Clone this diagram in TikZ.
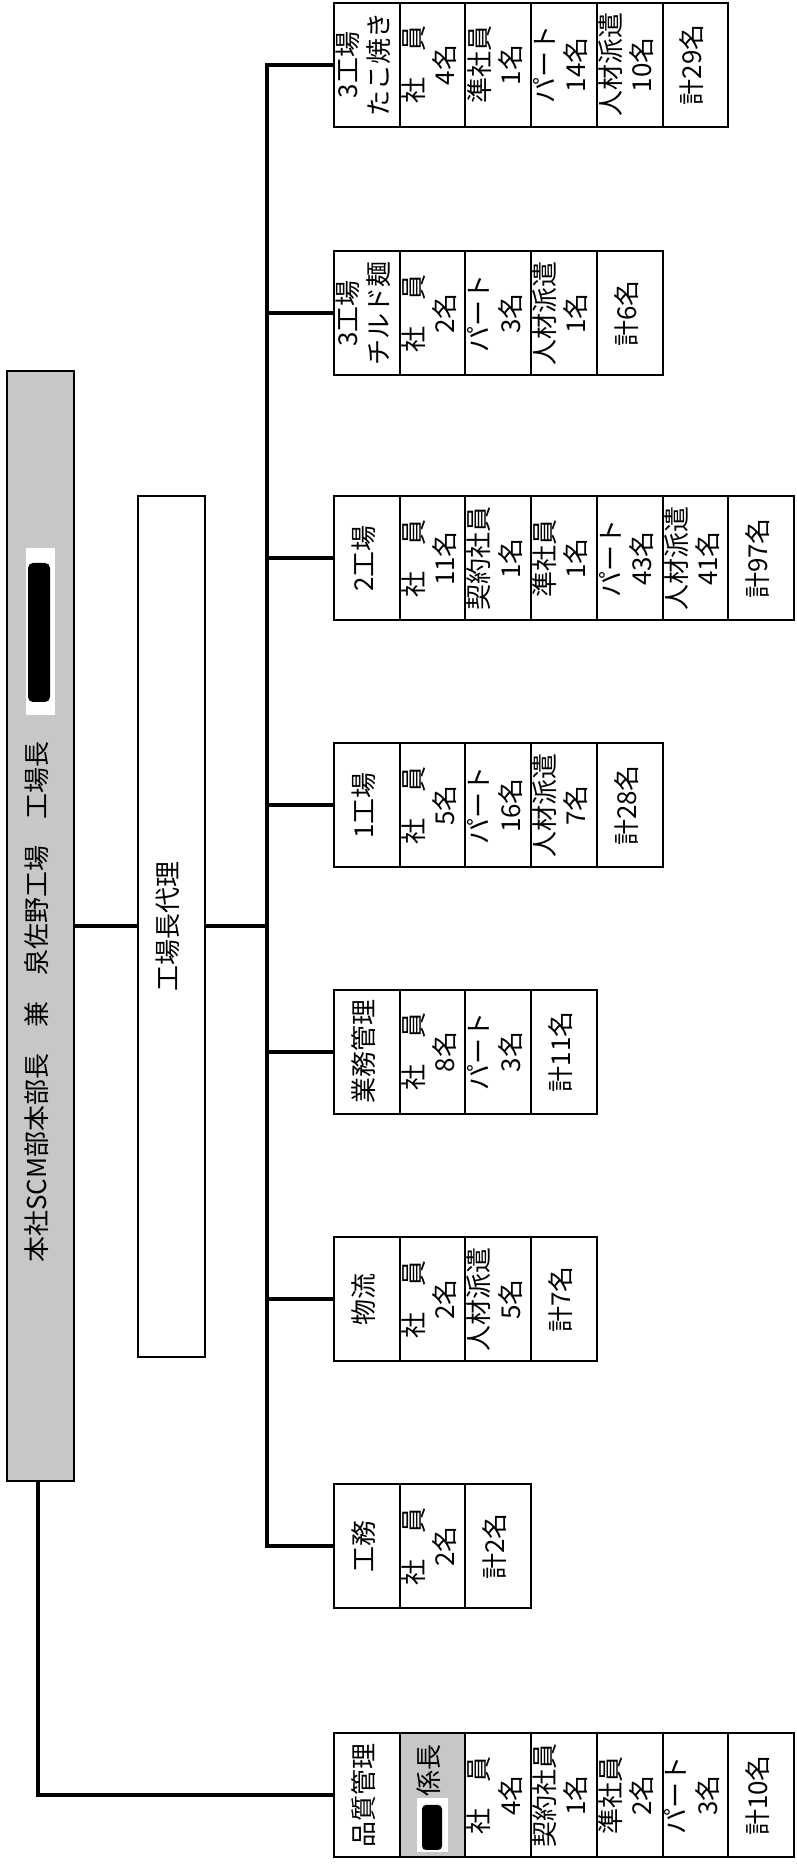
\documentclass[tikz,border=0pt]{standalone}
\usepackage{fontspec}
\usepackage{graphicx}
\newfontfamily\jpfont{Noto Sans CJK JP}
\usetikzlibrary{positioning}
\newcommand{\vtext}[1]{\rotatebox{90}{\begin{tabular}{@{}c@{}}#1\end{tabular}}}

\begin{document}
\begin{tikzpicture}[
    x=1pt, y=1pt,
    font=\jpfont\fontsize{26}{31}\selectfont,
    cell/.style={
		rectangle,
		draw=black,
		line width=2pt,
		minimum width=65.7pt,
		minimum height=124pt,
		inner sep=0pt,
		outer sep=0pt,
		fill=white
	},
	shaded/.style={
		cell,
		fill=black!22
	},
	link/.style={
		line width=4pt
	}
  ]
  \useasboundingbox (0,0) rectangle (796,1866);

    % We start by placing the two long boxes
  \node [shaded, minimum width=67pt, minimum height=1110pt] (head) at (40.5,939.5) {};
  \node (headlbl) at (40,864) {\vtext{本社SCM部本部長　兼　泉佐野工場　工場長}};
  \fill [white] (26,1151) rectangle (55,1318);
  \fill [black, rounded corners=5pt] (28,1164) rectangle (50,1303);

  \node [cell, minimum width=67pt, minimum height=861pt] (deputy) at (171.5,939.5) {\vtext{工場長代理}};

  \coordinate (spine) at (267,0);

    % 3工場 たこ焼き
  \node [cell] (tako1) at (366.9,1801) {\vtext{3工場\\たこ焼き}};
  \node [cell, right=0pt of tako1] (tako2) {\vtext{社　員\\4名}};
  \node [cell, right=0pt of tako2] (tako3) {\vtext{準社員\\1名}};
  \node [cell, right=0pt of tako3] (tako4) {\vtext{パート\\14名}};
  \node [cell, right=0pt of tako4] (tako5) {\vtext{人材派遣\\10名}};
  \node [cell, right=0pt of tako5] (tako6) {\vtext{計29名}};

    % 3工場 チルド麺
  \node [cell] (chil1) at (366.9,1552.5) {\vtext{3工場\\チルド麺}};
  \node [cell, right=0pt of chil1] (chil2) {\vtext{社　員\\2名}};
  \node [cell, right=0pt of chil2] (chil3) {\vtext{パート\\3名}};
  \node [cell, right=0pt of chil3] (chil4) {\vtext{人材派遣\\1名}};
  \node [cell, right=0pt of chil4] (chil5) {\vtext{計6名}};

    % 2工場
  \node [cell] (two1) at (366.9,1307.5) {\vtext{2工場}};
  \node [cell, right=0pt of two1] (two2) {\vtext{社　員\\11名}};
  \node [cell, right=0pt of two2] (two3) {\vtext{契約社員\\1名}};
  \node [cell, right=0pt of two3] (two4) {\vtext{準社員\\1名}};
  \node [cell, right=0pt of two4] (two5) {\vtext{パート\\43名}};
  \node [cell, right=0pt of two5] (two6) {\vtext{人材派遣\\41名}};
  \node [cell, right=0pt of two6] (two7) {\vtext{計97名}};

    % 1工場
  \node [cell] (one1) at (366.9,1060.5) {\vtext{1工場}};
  \node [cell, right=0pt of one1] (one2) {\vtext{社　員\\5名}};
  \node [cell, right=0pt of one2] (one3) {\vtext{パート\\16名}};
  \node [cell, right=0pt of one3] (one4) {\vtext{人材派遣\\7名}};
  \node [cell, right=0pt of one4] (one5) {\vtext{計28名}};

    % 業務管理
  \node [cell] (gyo1) at (366.9,814) {\vtext{業務管理}};
  \node [cell, right=0pt of gyo1] (gyo2) {\vtext{社　員\\8名}};
  \node [cell, right=0pt of gyo2] (gyo3) {\vtext{パート\\3名}};
  \node [cell, right=0pt of gyo3] (gyo4) {\vtext{計11名}};

    % 物流
  \node [cell] (buts1) at (366.9,566.5) {\vtext{物流}};
  \node [cell, right=0pt of buts1] (buts2) {\vtext{社　員\\2名}};
  \node [cell, right=0pt of buts2] (buts3) {\vtext{人材派遣\\5名}};
  \node [cell, right=0pt of buts3] (buts4) {\vtext{計7名}};

    % 工務
  \node [cell] (komu1) at (366.9,319.5) {\vtext{工務}};
  \node [cell, right=0pt of komu1] (komu2) {\vtext{社　員\\2名}};
  \node [cell, right=0pt of komu2] (komu3) {\vtext{計2名}};

    % 品質管理
  \node [cell] (qc1) at (366.9,70.5) {\vtext{品質管理}};
  \node [shaded, right=0pt of qc1] (qc2) {};
  \node (kakari) at ([yshift=24.5pt]qc2.center) {\vtext{係長}};
  \fill [white] (417,14) rectangle (448,68);
  \fill [black, rounded corners=4pt] (422,16) rectangle (442,61);
  \node [cell, right=0pt of qc2] (qc3) {\vtext{社　員\\4名}};
  \node [cell, right=0pt of qc3] (qc4) {\vtext{契約社員\\1名}};
  \node [cell, right=0pt of qc4] (qc5) {\vtext{準社員\\2名}};
  \node [cell, right=0pt of qc5] (qc6) {\vtext{パート\\3名}};
  \node [cell, right=0pt of qc6] (qc7) {\vtext{計10名}};

    % then the lines
  \draw [link] (head.east) -- (deputy.west);
  \draw [link] (deputy.east) -- (deputy.east -| spine);
  \draw [link] (tako1.west) -| (komu1.west -| spine) -- (komu1.west);
  \draw [link] (chil1.west -| spine) -- (chil1.west);
  \draw [link] (two1.west -| spine) -- (two1.west);
  \draw [link] (one1.west -| spine) -- (one1.west);
  \draw [link] (gyo1.west -| spine) -- (gyo1.west);
  \draw [link] (buts1.west -| spine) -- (buts1.west);
  \draw [link] ([xshift=-2.5pt]head.south) |- (qc1.west);

\end{tikzpicture}
\end{document}
